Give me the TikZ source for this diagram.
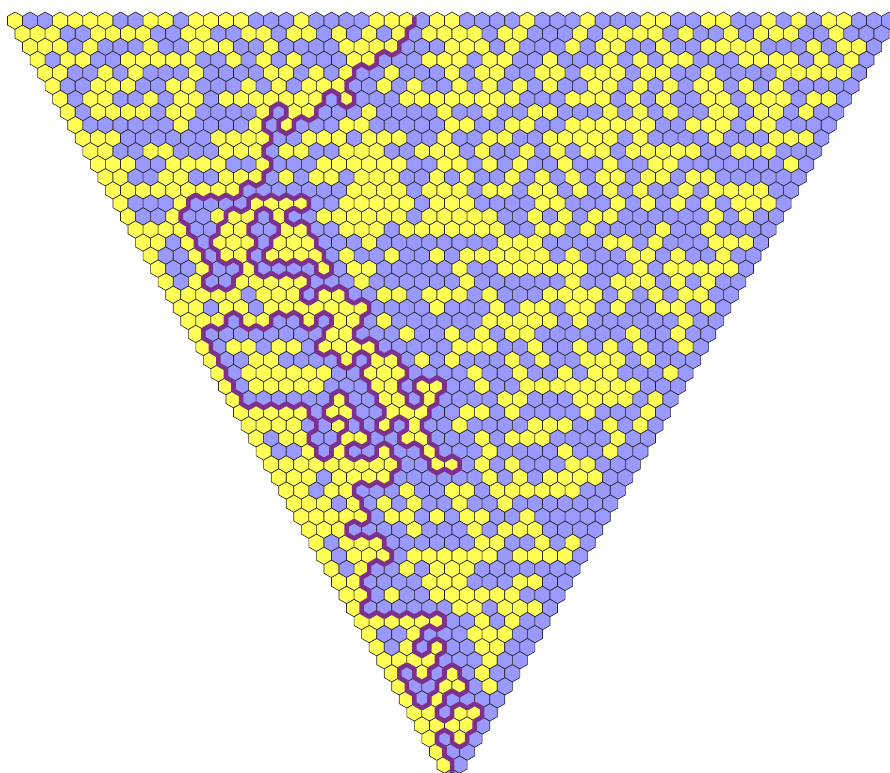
\documentclass[tikz,border=0pt]{standalone}
\usepackage{xcolor}
\usepackage{tikz}
\definecolor{cellyellow}{RGB}{255,255,85}
\definecolor{cellblue}{RGB}{153,153,255}
\definecolor{trailpurple}{RGB}{125,48,140}

\newcount\hexcol
\def\hexcell#1{\filldraw[hex#1] ({2*\the\hexcol+\hexrownum},{3*\hexrownum}) ++(0,-2) -- ++(1,1) -- ++(0,2) -- ++(-1,1) -- ++(-1,-1) -- ++(0,-2) -- cycle;\advance\hexcol by 1 }
\def\hexscan#1{\ifx#1\relax\else\hexcell{#1}\expandafter\hexscan\fi}

\begin{document}
\begin{tikzpicture}[
    x=0.1507cm, y=-0.087cm,
    hexY/.style={fill=cellyellow, draw=black!85, line width=0.35pt},
    hexB/.style={fill=cellblue, draw=black!85, line width=0.35pt},
    trail/.style={draw=trailpurple, line width=2.6pt, line join=round}
]
    \path[use as bounding box, clip] (-1.99,-4.76) rectangle (116.12,172.71);

    \foreach \hexrownum/\cells in {
        0/YBBYYYYBBYYBYYYYBBBYBBBBYYYBYYBBBBYBBBYBBBYYBBYYBBYBYBYYBBB,
        1/YYYBBYYYYBBYYBBYYBYYBYBYBYBYYYYBYYBBBYBYYYYBYBBYBYYYBBYBBB,
        2/YYYBYBBBYBBYYYBBYBBBBYYYYBBBYYYBYBBBYBYYBBYBBYYYYBBBYBYYB,
        3/YBYYBBYYYYYBBYBYBYBBBYYBBBYYYBYYBBYBBBYBYBYYBBBYYYYBYBYB,
        4/YYBBYBYBBBYBBBBYYBYBYBBYBBBYBYYBBYYBYYYBYYBBYBBBBYYYYYB,
        5/YBBYYYBBYYBBBYBYBYYYBBYBYBBYBYBYBYBBYYBYBYBYYBYBYBBBBB,
        6/YBYYBBYBYYBYYYYYYYBYBBBYYYYYYYYBBBYYYBYBYBBYYBYYYBYYB,
        7/YBYYYYBYYBBBBYBYYBBBYBBBBYBBYBBYYBBBYBYBYBBYYBYYBYBB,
        8/YBBBBBBYBBBBYBYBBBYYBBBBBYYBBYYBBYYYYYYBBYYYBYYBBBB,
        9/YYYBBBBBBYYYYBBYYYBYYYBBYBBYYBBYYYYYBYBBBBYBBBYYYB,
        10/YYBBYYBBBYYYBYYBBYYYBBYYYBYBBYBYBYYBYYYYYBBYYYBBB,
        11/YYYBBYYYYBBYBBBYYYYYYBBYYBYBYBBYBBYBBYYBBBBBBBYB,
        12/YYBBYYBBYYYBYBYYBYYYBBYBYBBYBYBYBYYBYYBYYBBBBBB,
        13/YYYYYYYYYBBBBBBBYYYYBYYYBYYBYYBYBYBYBBYBYYYYBB,
        14/YBBBYBBBBYYYYBBYYYYYBYYYBBBBYYBBBYBYBYBYBYYYB,
        15/YBBYBBYYYBYBBYYYYYYBYYYYYBBYBYBYYBBBBBBYBYBB,
        16/YYYYBBYYBBYYBBYYYBYYYYYYYBBYYBYBBBBYBBYBBBB,
        17/YYBYBYYYBYYYBBBYBBBBBBBBYYYBBBBYYBYBBBYYYB,
        18/YBBYBYYBYYYYBYBBYBBYBYYYYYYBYBBBYYBYBBYBB,
        19/YBBYBBYBBBBYBYYBBBBBYBBYYYYYYBBBYBYYYYYB,
        20/YBYBBYYYYYBBBYBBBBBBYBBBBBBYBBYYYBYBYBB,
        21/YYYYYBYYYBYYBBYYBYYYBYBBBYYYYBYBYBYYBB,
        22/YYBYYBYYYYYYYBBBBYBBBYBYYBYYBYBBYYBYB,
        23/YYYBYYBBYBYYBYBBBBBBYYYYYBYBBBBBBYBB,
        24/YBBBBBBBBYYBBBYBBYBYBYYBBBBBBYBBYBB,
        25/YBYYBYYBYYYYBBBBBYYYBBYBBYBYBYBBYB,
        26/YBBYYBBBBYBYYBYBYBBBYBYBBYYYBYBBB,
        27/YBYYYYYYBBYYYBBBBYBBYBBYBYYBBBYB,
        28/YBYYYYYBBBYYBYYBBYBBYYYYYYYYBBB,
        29/YBBBBBBYBBYYBYBBBBYYBBBYYYYBYB,
        30/YYYYYBYYBBYYYBBYYBYBBBBYBBBYB,
        31/YYYYBBYBBYBYBBYBBBBYYYBBYBYB,
        32/YBYYBBYYBBYYBBBYBYYYBBBBYBB,
        33/YBBYBYBBYBBYBBBYBBBBYBBYBB,
        34/YYYYYYYYYBBYYBYBYBBBYYBBB,
        35/YYYBYYYYBBBBBBYBYBYYYYBB,
        36/YYBYYBBBYBBYYBYYYYYYBBB,
        37/YYYBYBYBYBBYBBYBBBBBBB,
        38/YYYYYBYYBYBYYBBYBBBBB,
        39/YYYBBBBYBBBYBYYYBBBB,
        40/YBYYYBBBBBBYYBBYBYB,
        41/YBYYYBYYYYYYBYYYYB,
        42/YBYBBYBYYYBBBBBBB,
        43/YYBBBBYYYBBBYYBB,
        44/YYBYBBYYYYYYBBB,
        45/YBBBBBBYYBYYYB,
        46/YYYYYYBBYBYBB,
        47/YBBYBBBYYYBB,
        48/YBYBYBBYYBB,
        49/YYYYBBBYBB,
        50/YBYBYBYBB,
        51/YBBYYBYB,
        52/YBYBBBB,
        53/YYBYYB,
        54/YYYYB,
        55/YBYB,
        56/YBB,
        57/YB,
        58/B}{
        \hexcol=0
        \expandafter\hexscan\cells\relax
    }

    % interface between the yellow and the blue cells
    \draw[trail] plot coordinates {
        (53,-1) (53,1) (52,2) (52,4) (51,5) (51,7) (50,8) (49,7) (48,8) (48,10) (47,11) (46,10) (45,11) (45,13) (44,14) (44,16) (45,17) (45,19) (44,20) (43,19) (43,17) (42,16) (41,17) (41,19) (40,20) (40,22) (39,23) (38,22) (37,23) (37,25) (36,26) (35,25) (35,23) (36,22) (36,20) (35,19) (34,20) (34,22) (33,23) (33,25) (34,26) (34,28) (33,29) (33,31) (34,32) (34,34) (33,35) (33,37) (32,38) (31,37) (30,38) (30,40) (29,41) (28,40) (27,41) (26,40) (25,41) (24,40) (23,41) (23,43) (22,44) (22,46) (23,47) (23,49) (24,50) (24,52) (25,53) (25,55) (26,56) (26,58) (25,59) (25,61) (26,62) (27,61) (28,62) (29,61) (29,59) (30,58) (30,56) (29,55) (28,56) (27,55) (27,53) (26,52) (26,50) (27,49) (27,47) (28,46) (28,44) (29,43) (30,44) (31,43) (31,41) (32,40) (33,41) (34,40) (35,41) (36,40) (37,41) (38,40) (39,41) (39,43) (38,44) (37,43) (36,44) (36,46) (37,47) (38,46) (39,47) (39,49) (40,50) (40,52) (41,53) (41,55) (42,56) (42,58) (41,59) (40,58) (40,56) (39,55) (38,56) (37,55) (36,56) (35,55) (34,56) (33,55) (33,53) (34,52) (34,50) (35,49) (35,47) (34,46) (34,44) (33,43) (32,44) (32,46) (31,47) (31,49) (32,50) (32,52) (31,53) (31,55) (32,56) (32,58) (33,59) (34,58) (35,59) (36,58) (37,59) (38,58) (39,59) (39,61) (38,62) (38,64) (39,65) (40,64) (40,62) (41,61) (42,62) (43,61) (44,62) (44,64) (45,65) (46,64) (47,65) (47,67) (46,68) (46,70) (45,71) (45,73) (46,74) (47,73) (48,74) (48,76) (49,77) (50,76) (51,77) (51,79) (52,80) (52,82) (51,83) (51,85) (52,86) (52,88) (53,89) (54,88) (54,86) (53,85) (53,83) (54,82) (55,83) (56,82) (57,83) (57,85) (56,86) (56,88) (55,89) (55,91) (54,92) (54,94) (55,95) (55,97) (56,98) (56,100) (57,101) (58,100) (59,101) (59,103) (58,104) (57,103) (56,104) (55,103) (55,101) (54,100) (54,98) (53,97) (52,98) (51,97) (51,95) (52,94) (52,92) (51,91) (50,92) (50,94) (49,95) (48,94) (48,92) (49,91) (49,89) (48,88) (48,86) (47,85) (47,83) (46,82) (46,80) (47,79) (47,77) (46,76) (45,77) (45,79) (44,80) (43,79) (43,77) (42,76) (41,77) (40,76) (40,74) (41,73) (41,71) (42,70) (42,68) (41,67) (40,68) (40,70) (39,71) (38,70) (38,68) (37,67) (36,68) (35,67) (34,68) (34,70) (33,71) (32,70) (31,71) (30,70) (30,68) (29,67) (28,68) (28,70) (27,71) (26,70) (25,71) (25,73) (26,74) (26,76) (27,77) (27,79) (28,80) (28,82) (29,83) (29,85) (30,86) (30,88) (31,89) (32,88) (33,89) (34,88) (35,89) (36,88) (37,89) (38,88) (39,89) (39,91) (40,92) (40,94) (39,95) (39,97) (40,98) (40,100) (41,101) (42,100) (42,98) (43,97) (43,95) (44,94) (44,92) (43,91) (42,92) (41,91) (41,89) (42,88) (42,86) (43,85) (44,86) (44,88) (45,89) (45,91) (46,92) (46,94) (47,95) (47,97) (46,98) (45,97) (44,98) (44,100) (45,101) (46,100) (47,101) (48,100) (48,98) (49,97) (50,98) (50,100) (51,101) (51,103) (50,104) (50,106) (49,107) (48,106) (47,107) (46,106) (45,107) (45,109) (46,110) (46,112) (47,113) (47,115) (46,116) (45,115) (44,116) (44,118) (45,119) (46,118) (47,119) (48,118) (49,119) (49,121) (50,122) (50,124) (49,125) (48,124) (47,125) (47,127) (46,128) (46,130) (47,131) (47,133) (46,134) (46,136) (47,137) (48,136) (49,137) (50,136) (51,137) (52,136) (53,137) (54,136) (55,137) (56,136) (57,137) (57,139) (56,140) (55,139) (54,140) (54,142) (53,143) (53,145) (54,146) (55,145) (55,143) (56,142) (57,143) (57,145) (56,146) (56,148) (55,149) (55,151) (54,152) (53,151) (53,149) (52,148) (51,149) (51,151) (52,152) (52,154) (53,155) (53,157) (54,158) (55,157) (55,155) (56,154) (56,152) (57,151) (57,149) (58,148) (59,149) (59,151) (60,152) (60,154) (59,155) (58,154) (57,155) (57,157) (56,158) (56,160) (57,161) (58,160) (58,158) (59,157) (60,158) (61,157) (62,158) (62,160) (61,161) (61,163) (60,164) (60,166) (59,167) (58,166) (58,164) (57,163) (56,164) (56,166) (57,167) (57,169) (58,170) (58,172) (58,174)
    };
\end{tikzpicture}
\end{document}
